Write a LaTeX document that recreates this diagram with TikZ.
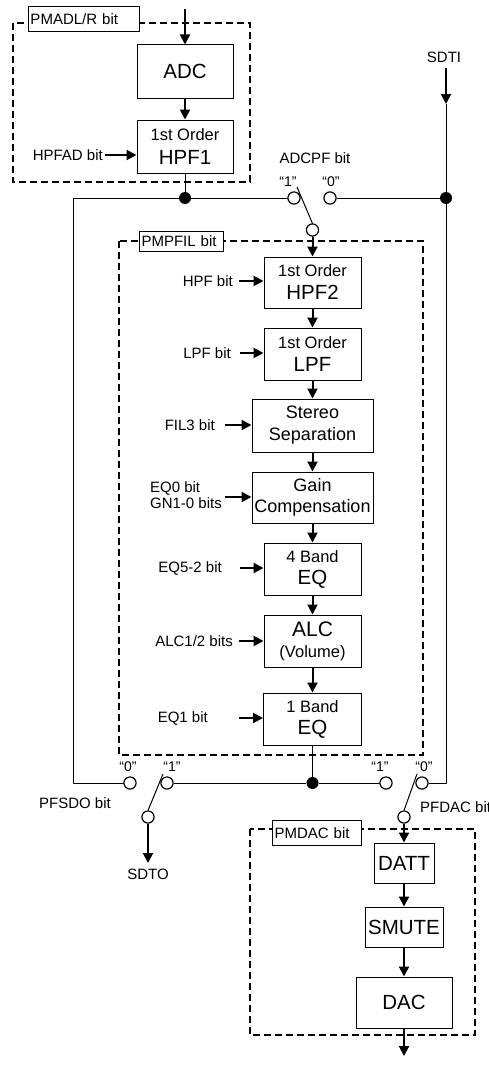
\documentclass[tikz,border=0pt]{standalone}
\usepackage{fontspec}
\setmainfont{Liberation Sans}
\usetikzlibrary{arrows.meta}
\newcommand\fsz[1]{\fontsize{#1}{#1}\selectfont}
\begin{document}
\begin{tikzpicture}[x=1pt,y=-1pt,
  blk/.style={draw, line width=1pt, inner sep=0pt, align=center, font=\fontsize{20.5}{24}\selectfont},
  two/.style={draw, line width=1pt, inner sep=0pt, align=center, font=\fontsize{16.5}{#1}\selectfont},
  ar/.style={line width=2pt, -{Triangle[length=10pt,width=10pt]}},
  ln/.style={line width=1pt},
  dbox/.style={draw, line width=2pt, dash pattern=on 7pt off 4pt},
  lab/.style={font=\fontsize{15}{17}\selectfont, inner sep=0pt},
  qt/.style={font=\fontsize{14}{16}\selectfont, inner sep=0pt},
  sw/.style={circle, draw, line width=1pt, fill=white, minimum size=12pt, inner sep=0pt},
  jdot/.style={circle, fill, minimum size=12pt, inner sep=0pt},
  bitbox/.style={draw, line width=1pt, fill=white, inner xsep=2pt, inner ysep=0pt, font=\fontsize{15}{17}\selectfont, align=left, anchor=north west}
]
\useasboundingbox (0,0) rectangle (488,1065);

% dashed boxes
\draw[dbox] (13,23) rectangle (250,182);
\draw[dbox] (119,241) rectangle (423,755);
\draw[dbox] (250,829) rectangle (475,1035);
\node[bitbox, minimum width=111pt, minimum height=25pt, text width=107pt] (labA) at (28,6) {PMADL/R bit};
\node[bitbox, minimum width=84pt, minimum height=20pt, text width=80pt] (labB) at (139,231) {PMPFIL bit};
\node[bitbox, minimum width=89pt, minimum height=25pt, text width=85pt] (labC) at (272,820) {PMDAC bit};

% blocks
\node[blk, minimum width=96pt, minimum height=53pt] (ADC) at (185,71.5) {ADC};
\node[two=24, minimum width=96pt, minimum height=53pt] (HPF1) at (185,146.5) {1st Order\\{\fsz{20.5}HPF1}};
\node[two=23, minimum width=97pt, minimum height=51pt] (HPF2) at (312.5,282.5) {1st Order\\{\fsz{20.5}HPF2}};
\node[two=23, minimum width=97pt, minimum height=52pt] (LPF) at (312.5,354) {1st Order\\{\fsz{20.5}LPF}};
\node[two=22, font=\fontsize{18}{22}\selectfont, minimum width=121pt, minimum height=53pt] (STE) at (312.5,425.5) {Stereo\\Separation};
\node[two=21, font=\fontsize{18}{21}\selectfont, minimum width=121pt, minimum height=51pt] (GAIN) at (312.5,497.5) {Gain\\Compensation};
\node[two=22, minimum width=97pt, minimum height=52pt] (EQ4) at (312.5,569) {4 Band\\{\fsz{20.5}EQ}};
\node[two=21, minimum width=97pt, minimum height=52pt] (ALC) at (312.5,641) {{\fsz{21}ALC}\\(Volume)};
\node[two=22, minimum width=98pt, minimum height=52pt] (EQ1) at (312.5,719) {1 Band\\{\fsz{20.5}EQ}};
\node[blk, minimum width=60pt, minimum height=40pt] (DATT) at (404,863) {DATT};
\node[blk, minimum width=78pt, minimum height=40pt] (SMUTE) at (404,927) {SMUTE};
\node[blk, minimum width=96pt, minimum height=51pt] (DAC) at (404,1002.5) {DAC};

% junction dots and switch contacts
\node[jdot] (j1) at (185,198) {};
\node[jdot] (j2) at (446,198) {};
\node[jdot] (j3) at (312.5,783) {};
\node[sw] (s1one) at (294,198) {};
\node[sw] (s1zero) at (330,198) {};
\node[sw] (s1pole) at (312.5,230) {};
\node[sw] (s2zero) at (130,783) {};
\node[sw] (s2one) at (167,783) {};
\node[sw] (s2pole) at (148,817) {};
\node[sw] (s3one) at (386,783) {};
\node[sw] (s3zero) at (422,783) {};
\node[sw] (s3pole) at (404,817) {};

% coordinates
\coordinate (adcin) at (185,9);
\coordinate (sdtiA) at (446,68);
\coordinate (sdtiB) at (446,104);
\coordinate (cTL) at (73,198);
\coordinate (cBL) at (73,783);
\coordinate (cBR) at (446,783);
\coordinate (sdtoA) at (148,863);
\coordinate (dacout) at (404,1056);
\coordinate (lev1) at (297,187);
\coordinate (lev2) at (163,774);
\coordinate (lev3) at (417,774);

% texts
\node[lab] (SDTI) at (444,57) {SDTI};
\node[lab] (ADCPF) at (315,158) {ADCPF bit};
\node[qt] (q1a) at (288,182) {“1”};
\node[qt] (q1b) at (331,182) {“0”};
\node[qt] (q2a) at (128,767) {“0”};
\node[qt] (q2b) at (172,767) {“1”};
\node[qt] (q3a) at (380,767) {“1”};
\node[qt] (q3b) at (424,767) {“0”};
\node[lab] (PFSDO) at (75,803) {PFSDO bit};
\node[lab, anchor=west] (PFDAC) at (420,807) {PFDAC bit};
\node[lab] (SDTO) at (148,874) {SDTO};

\node[lab, anchor=east] (tHPFAD) at (103,155) {HPFAD bit};
\node[lab, anchor=east] (tHPF) at (233,281) {HPF bit};
\node[lab, anchor=east] (tLPF) at (231,353) {LPF bit};
\node[lab, anchor=east] (tFIL) at (215,425) {FIL3 bit};
\node[lab, anchor=east, align=left, font=\fontsize{15}{16}\selectfont] (tEQ0) at (222,495) {EQ0 bit\\GN1-0 bits};
\node[lab, anchor=east] (tEQ5) at (222,568) {EQ5-2 bit};
\node[lab, anchor=east] (tALC) at (233,641) {ALC1/2 bits};
\node[lab, anchor=east] (tEQ1) at (208,718) {EQ1 bit};

% control arrows
\draw[ar] ([xshift=2pt]tHPFAD.east) -- (tHPFAD.east -| HPF1.west);
\draw[ar] ([xshift=6pt]tHPF.east) -- (tHPF.east -| HPF2.west);
\draw[ar] ([xshift=9pt]tLPF.east) -- (tLPF.east -| LPF.west);
\draw[ar] ([xshift=10pt]tFIL.east) -- (tFIL.east -| STE.west);
\draw[ar] ([xshift=3pt,yshift=-2pt]tEQ0.east) -- ([yshift=-2pt]tEQ0.east -| GAIN.west);
\draw[ar] ([xshift=18pt]tEQ5.east) -- (tEQ5.east -| EQ4.west);
\draw[ar] ([xshift=6pt]tALC.east) -- (tALC.east -| ALC.west);
\draw[ar] ([xshift=31pt]tEQ1.east) -- (tEQ1.east -| EQ1.west);

% signal path
\draw[ar] (adcin) -- (ADC.north);
\draw[ar] (ADC.south) -- (HPF1.north);
\draw[ln] (HPF1.south) -- (j1);
\draw[ln] (cTL) -- (j1) -- (s1one);
\draw[ln] (s1zero) -- (j2);
\draw[ar] (sdtiA) -- (sdtiB);
\draw[ln] (sdtiB) -- (j2) -- (cBR) -- (s3zero);
\draw[ln] (cTL) -- (cBL) -- (s2zero);
\draw[ar] (s1pole.south) -- (HPF2.north);
\draw[ar] (HPF2.south) -- (LPF.north);
\draw[ar] (LPF.south) -- (STE.north);
\draw[ar] (STE.south) -- (GAIN.north);
\draw[ar] (GAIN.south) -- (EQ4.north);
\draw[ar] (EQ4.south) -- (ALC.north);
\draw[ar] (ALC.south) -- (EQ1.north);
\draw[ln] (EQ1.south) -- (j3);
\draw[ln] (s2one) -- (j3) -- (s3one);
\draw[ar] (s2pole.south) -- (sdtoA);
\draw[ar] (s3pole.south) -- (DATT.north);
\draw[ar] (DATT.south) -- (SMUTE.north);
\draw[ar] (SMUTE.south) -- (DAC.north);
\draw[ar] (DAC.south) -- (dacout);

% redraw contacts over lines, then levers
\foreach \n in {s1one,s1zero,s1pole,s2zero,s2one,s2pole,s3one,s3zero,s3pole}
  \node[sw] at (\n) {};
\draw[ln] (s1pole.north) -- (lev1);
\draw[ln] (s2pole.north) -- (lev2);
\draw[ln] (s3pole.north) -- (lev3);
\end{tikzpicture}
\end{document}
